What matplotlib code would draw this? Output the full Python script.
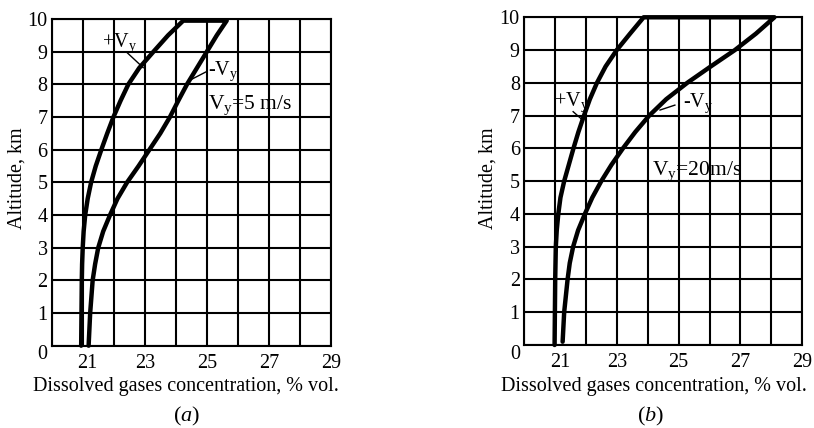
import matplotlib
matplotlib.use("Agg")
import matplotlib.pyplot as plt
import matplotlib.transforms as mtransforms

plt.rcParams['font.family'] = ['Liberation Serif', 'DejaVu Serif']
plt.rcParams['mathtext.fontset'] = 'custom'
plt.rcParams['mathtext.rm'] = 'Liberation Serif'
plt.rcParams['mathtext.it'] = 'Liberation Serif:italic'

# ---- data ----
x_ticks = [21, 23, 25, 27, 29]
x_grid = [20, 21, 22, 23, 24, 25, 26, 27, 28, 29]
y_ticks = [0, 1, 2, 3, 4, 5, 6, 7, 8, 9, 10]

# panel (a): Vy = 5 m/s
a_plus_alt = [0, 1, 2, 2.5, 3, 3.5, 4, 4.5, 5, 5.5, 6, 6.5, 7, 7.5, 8, 8.5, 9, 9.5, 9.95]
a_plus_c = [20.95, 20.96, 20.97, 20.98, 21.0, 21.03, 21.08, 21.16, 21.27, 21.42, 21.6,
            21.79, 21.99, 22.22, 22.47, 22.82, 23.28, 23.75, 24.24]
a_minus_alt = [0, 1, 2, 2.5, 3, 3.5, 4, 4.5, 5, 5.5, 6, 6.5, 7, 7.5, 8, 8.5, 9, 9.5, 9.95]
a_minus_c = [21.19, 21.24, 21.32, 21.4, 21.5, 21.66, 21.88, 22.12, 22.43, 22.8, 23.15,
             23.5, 23.81, 24.08, 24.36, 24.68, 25.0, 25.32, 25.64]

# panel (b): Vy = 20 m/s
b_plus_alt = [0, 1, 2, 2.5, 3, 3.5, 4, 4.5, 5, 5.5, 6, 6.5, 7, 7.5, 8, 8.5, 9, 9.5, 10]
b_plus_c = [20.99, 21.0, 21.01, 21.02, 21.03, 21.06, 21.11, 21.18, 21.3, 21.45, 21.6,
            21.76, 21.94, 22.13, 22.36, 22.64, 23.0, 23.43, 23.87]
b_minus_alt = [0.1, 1, 2, 2.5, 3, 3.5, 4, 4.5, 5, 5.5, 6, 6.5, 7, 7.5, 8, 8.5, 9, 9.5, 10]
b_minus_c = [21.25, 21.3, 21.41, 21.48, 21.59, 21.75, 21.97, 22.21, 22.5, 22.83, 23.2,
             23.6, 24.05, 24.6, 25.28, 26.04, 26.82, 27.5, 28.1]

FS = 14.5
fig = plt.figure(figsize=(8.14, 4.28), dpi=100)

panels = [
    dict(rect=[0.0635, 0.1923, 0.3431, 0.7633], plus=(a_plus_c, a_plus_alt),
         minus=(a_minus_c, a_minus_alt), letter='a',
         plus_txt=(21.61, 9.15), plus_lead=((22.42, 8.98), (22.95, 8.51)),
         minus_txt=(25.04, 8.29), minus_lead=((24.99, 8.39), (24.46, 8.13)),
         v_txt=(25.05, 7.24), v_label=r'V$_\mathrm{y}$=5 m/s',
         xlab_x=186, ylab_x=17, letter_x=186.7),
    dict(rect=[0.6437, 0.1939, 0.3419, 0.7657], plus=(b_plus_c, b_plus_alt),
         minus=(b_minus_c, b_minus_alt), letter='b',
         plus_txt=(20.97, 7.30), plus_lead=((21.59, 7.12), (21.89, 6.87)),
         minus_txt=(25.15, 7.27), minus_lead=((24.88, 7.32), (24.40, 7.17)),
         v_txt=(24.15, 5.19), v_label=r'V$_\mathrm{y}$=20m/s',
         xlab_x=654, ylab_x=488, letter_x=650.7),
]

W, H = 814, 428
for p in panels:
    ax = fig.add_axes(p['rect'])
    ax.set_xlim(20, 29)
    ax.set_ylim(0, 10)
    ax.set_yticks(y_ticks)
    ax.set_xticks(x_ticks)
    ax.set_xticklabels([str(t) for t in x_ticks])
    ax.set_yticklabels([str(t) for t in y_ticks])
    ax.grid(True, axis='y', color='black', linewidth=1.5)
    for gx in x_grid:
        ax.axvline(gx, color='black', linewidth=1.5, zorder=1)
    ax.tick_params(axis='both', which='both', length=0, labelsize=FS)
    ax.tick_params(axis='x', pad=6.0)
    ax.tick_params(axis='y', pad=3)
    for s in ax.spines.values():
        s.set_linewidth(1.5)
    # offsets of "0" and "21" labels as in reference
    ylabs = ax.get_yticklabels()
    ylabs[0].set_transform(ylabs[0].get_transform() +
                           mtransforms.ScaledTranslation(0, -6.5 / 100, fig.dpi_scale_trans))
    xlabs = ax.get_xticklabels()
    xlabs[0].set_transform(xlabs[0].get_transform() +
                           mtransforms.ScaledTranslation(5 / 100, 0, fig.dpi_scale_trans))

    pc, pa = p['plus']
    mc, ma = p['minus']
    xs = list(pc) + list(mc)[::-1]
    ys = list(pa) + list(ma)[::-1]
    ax.plot(xs, ys, color='black', linewidth=3.2, clip_on=False,
            solid_joinstyle='round', solid_capstyle='round', zorder=5)

    ax.text(*p['plus_txt'], r'+V$_\mathrm{y}$', fontsize=FS, ha='left', va='baseline',
            zorder=6)
    ax.plot(*zip(*p['plus_lead']), color='black', linewidth=1.0, zorder=6)
    ax.text(*p['minus_txt'], r'-V$_\mathrm{y}$', fontsize=FS, ha='left', va='baseline',
            zorder=6)
    ax.plot(*zip(*p['minus_lead']), color='black', linewidth=1.0, zorder=6)
    ax.text(*p['v_txt'], p['v_label'], fontsize=FS + 1, ha='left', va='baseline', zorder=6)

    fig.text(p['xlab_x'] / W, 1 - 387 / H, 'Dissolved gases concentration, % vol.',
             fontsize=FS, ha='center', va='center')
    fig.text(p['ylab_x'] / W, 1 - 178.5 / H, 'Altitude, km', fontsize=FS,
             ha='center', va='center', rotation=90)
    fig.text(p['letter_x'] / W, 1 - 416 / H, '(' + r'$\it{' + p['letter'] + '}$' + ')',
             fontsize=FS + 1.5, ha='center', va='center')

fig.savefig('out.png', dpi=100)
